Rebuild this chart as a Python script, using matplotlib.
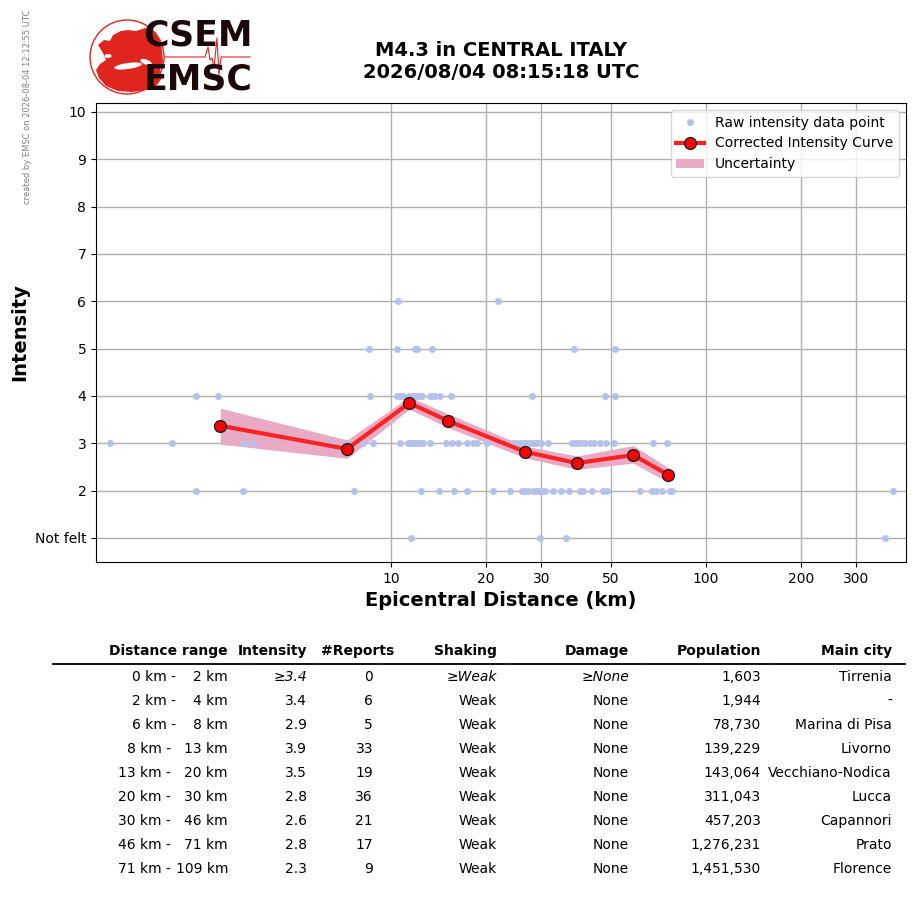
import numpy as np
import matplotlib
matplotlib.use("Agg")
import matplotlib.pyplot as plt
from matplotlib.patches import Circle, Polygon, Ellipse
from matplotlib.lines import Line2D
from matplotlib.ticker import NullLocator

# raw reports: epicentral distance (km) per intensity level
raw_d_notfelt = [11.57, 29.72, 35.94, 370.1]
raw_d_2 = [2.40, 3.39, 7.63, 12.45, 14.20, 15.85, 17.43, 21.08, 23.86, 26.05, 26.63,
           27.22, 28.24, 28.87, 29.50, 30.16, 30.83, 32.68, 34.65, 36.74, 39.81, 40.70,
           43.48, 47.11, 48.51, 61.73, 67.38, 69.38, 72.48, 76.83, 77.97, 392.4]
raw_d_3 = [1.28, 2.02, 3.42, 3.65, 6.40, 7.25, 8.15, 8.77, 10.68, 11.32, 11.49, 11.66,
           11.83, 12.00, 12.18, 12.36, 12.63, 13.30, 14.95, 15.62, 16.32, 17.43, 18.21,
           18.75, 20.17, 24.39, 24.94, 25.67, 26.24, 26.83, 27.42, 28.03, 28.66, 29.08,
           29.94, 31.51, 37.55, 38.38, 39.24, 40.11, 41.30, 42.84, 44.12, 46.09, 48.16,
           51.04, 67.86, 75.17]
raw_d_4 = [2.40, 2.82, 8.58, 10.45, 10.68, 10.92, 11.40, 11.66, 11.83, 12.09, 12.36,
           12.54, 13.30, 13.50, 13.80, 14.31, 15.50, 28.03, 47.81, 51.42]
raw_d_5 = [8.52, 10.45, 11.92, 12.09, 13.50, 38.10, 51.42]
raw_d_6 = [10.52, 21.86]

# corrected intensity curve and its uncertainty
curve_dist = [2.87, 7.25, 11.43, 15.20, 26.63, 38.86, 58.76, 75.92]
curve_int = [3.37, 2.88, 3.85, 3.47, 2.82, 2.58, 2.75, 2.33]
unc_low = [2.98, 2.68, 3.72, 3.33, 2.69, 2.45, 2.58, 2.17]
unc_high = [3.74, 3.07, 3.98, 3.62, 2.94, 2.73, 2.95, 2.48]

x_ticks = [10, 20, 30, 50, 100, 200, 300]
y_labels = ["Not felt", "2", "3", "4", "5", "6", "7", "8", "9", "10"]

# summary table
range_lo = [0, 2, 6, 8, 13, 20, 30, 46, 71]
range_hi = [2, 4, 8, 13, 20, 30, 46, 71, 109]
tab_int = ["≥3.4", "3.4", "2.9", "3.9", "3.5", "2.8", "2.6", "2.8", "2.3"]
tab_reports = [0, 6, 5, 33, 19, 36, 21, 17, 9]
tab_shaking = ["≥Weak"] + ["Weak"] * 8
tab_damage = ["≥None"] + ["None"] * 8
tab_pop = [1603, 1944, 78730, 139229, 143064, 311043, 457203, 1276231, 1451530]
tab_city = ["Tirrenia", "-", "Marina di Pisa", "Livorno", "Vecchiano-Nodica",
            "Lucca", "Capannori", "Prato", "Florence"]

W, H = 915, 905
fig = plt.figure(figsize=(W / 100, H / 100), dpi=100)


def px(x, y):
    return x / W, 1 - y / H


ax = fig.add_axes([96 / W, 1 - 562 / H, 810 / W, 459 / H])

levels = [(1, raw_d_notfelt), (2, raw_d_2), (3, raw_d_3), (4, raw_d_4), (5, raw_d_5), (6, raw_d_6)]
rx = np.concatenate([d for _, d in levels])
ry = np.concatenate([[lv] * len(d) for lv, d in levels])

ax.fill_between(curve_dist, unc_low, unc_high, color="#e8aac4", lw=0, zorder=2,
                label="Uncertainty")
ax.plot(rx, ry, "o", color="#b4c1eb", ms=5, mec="none", zorder=3,
        label="Raw intensity data point")
ax.plot(curve_dist, curve_int, "-o", color="#ff2222", lw=3, ms=8.5, mfc="red",
        mec="#222222", mew=1, zorder=4, label="Corrected Intensity Curve")

ax.set_xscale("log")
ax.set_xlim(1.157, 431.5)
ax.set_ylim(0.49, 10.19)
ax.set_xticks(x_ticks)
ax.set_xticklabels([str(t) for t in x_ticks])
ax.xaxis.set_minor_locator(NullLocator())
ax.set_yticks(range(1, 11))
ax.set_yticklabels(y_labels)
ax.tick_params(labelsize=10)
ax.grid(True, color="#b0b0b0", lw=1)
ax.set_axisbelow(True)
ax.set_xlabel("Epicentral Distance (km)", fontsize=14, fontweight="bold")
ax.set_ylabel("Intensity", fontsize=14, fontweight="bold")
ax.set_title("M4.3 in CENTRAL ITALY\n2026/08/04 08:15:18 UTC", fontsize=14,
             fontweight="bold", pad=18)

h, l = ax.get_legend_handles_labels()
order = [1, 2, 0]
ax.legend([h[i] for i in order], [l[i] for i in order], loc="upper right", fontsize=10)

fig.text(*px(28, 107), "created by EMSC on 2026-08-04 12:12:55 UTC", rotation=90,
         fontsize=6, color="gray", ha="center", va="center")

# logo
lg = fig.add_axes([85 / W, 1 - 100 / H, 170 / W, 85 / H])
lg.set_xlim(85, 255)
lg.set_ylim(100, 15)
lg.axis("off")
red = "#e0251f"
lg.add_patch(Circle((127, 57), 37, fill=False, ec=red, lw=1))
lg.add_patch(Polygon([(98, 45), (104, 40), (110, 41), (113, 35), (121, 31), (128, 30),
                      (136, 31), (145, 28), (155, 32), (160, 40), (162, 50), (163, 62),
                      (160, 70), (162, 78), (157, 85), (146, 90), (132, 92), (118, 91),
                      (106, 86), (99, 78), (96, 70), (100, 64), (106, 60), (103, 53)],
                     closed=True, fc=red, ec="none"))
lg.add_patch(Ellipse((128, 66), 28, 6, angle=-8, fc="white", ec="none"))
lg.add_patch(Ellipse((146, 62), 12, 5, angle=20, fc="white", ec="none"))
lg.add_patch(Ellipse((108, 56), 7, 4, fc="white", ec="none"))
lg.plot([165, 205, 208, 210, 212, 214, 217, 219, 221, 250],
        [57, 57, 47, 60, 58, 68, 38, 75, 57, 57], color=red, lw=0.8)
lg.text(198, 36, "CSEM", fontsize=25, fontweight="bold", color="#1c0808",
        ha="center", va="center")
lg.text(198, 80, "EMSC", fontsize=25, fontweight="bold", color="#1c0808",
        ha="center", va="center")

# table
header_y = 651
headers = [("Distance range", 228), ("Intensity", 307), ("#Reports", 394),
           ("Shaking", 497), ("Damage", 629), ("Population", 761), ("Main city", 892)]
for txt, xr in headers:
    fig.text(*px(xr, header_y), txt, fontsize=10, fontweight="bold", ha="right",
             va="center")

bounds = [52, 248, 315, 380, 510, 643, 773, 906]
for a, b in zip(bounds[:-1], bounds[1:]):
    x0, y0 = px(a + 1, 664)
    x1, _ = px(b - 1, 664)
    fig.add_artist(Line2D([x0, x1], [y0, y0], color="black", lw=1.3))

for i in range(len(range_lo)):
    y = 677 + 24 * i
    style = "italic" if i == 0 else "normal"
    lx = 176 if range_hi[i] < 10 else 171
    fig.text(*px(lx, y), f"{range_lo[i]} km -", fontsize=10, ha="right", va="center")
    fig.text(*px(228, y), f"{range_hi[i]} km", fontsize=10, ha="right", va="center")
    fig.text(*px(307, y), tab_int[i], fontsize=10, ha="right", va="center", style=style)
    fig.text(*px(373, y), str(tab_reports[i]), fontsize=10, ha="right", va="center")
    fig.text(*px(497, y), tab_shaking[i], fontsize=10, ha="right", va="center", style=style)
    fig.text(*px(629, y), tab_damage[i], fontsize=10, ha="right", va="center", style=style)
    fig.text(*px(761, y), f"{tab_pop[i]:,}", fontsize=10, ha="right", va="center")
    fig.text(*px(892, y), tab_city[i], fontsize=10, ha="right", va="center")

fig.savefig("out.png", dpi=100)
